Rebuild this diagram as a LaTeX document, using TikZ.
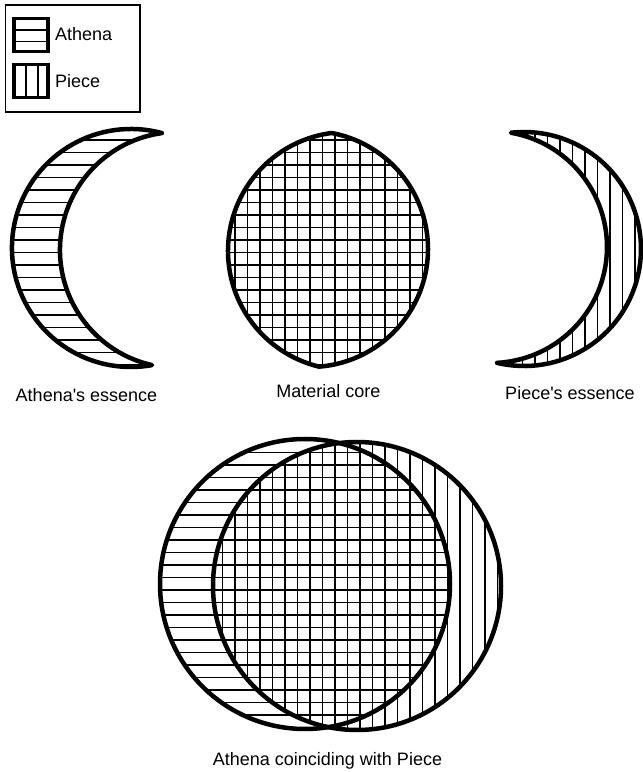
\documentclass[tikz,border=0pt]{standalone}
\usepackage{fontspec}
\newfontfamily\labfont{Liberation Sans}
\begin{document}
\begin{tikzpicture}[x=1pt,y=1pt,
  outline/.style={line width=4.5pt, line join=round},
  hatchline/.style={line width=1.3pt},
  frameline/.style={line width=1.3pt},
  swatch/.style={line width=3.2pt},
  lab/.style={font=\labfont\fontsize{18}{21}\selectfont, inner sep=0pt, anchor=base},
  athenaess/.style={insert path={(161.96,638.89) arc[start angle=74.9,end angle=280.2,radius=119] arc[start angle=257.3,end angle=97.8,radius=118] -- cycle}},
  corelens/.style={insert path={(331.63,639.01) arc[start angle=97.42,end angle=256.39,radius=119] arc[start angle=-85.63,end angle=79.44,radius=118] -- cycle}},
  pieceess/.style={insert path={(497.02,409.15) arc[start angle=-103.33,end angle=96.40,radius=117] arc[start angle=80.09,end angle=-87.03,radius=116] -- cycle}},
  athenacirc/.style={insert path={(305,188) circle[radius=145]}},
  piececirc/.style={insert path={(357,186) circle[radius=144]}}
]
\useasboundingbox (0,0) rectangle (643,772);

% ---------- legend ----------
\draw[frameline] (5.5,767) rectangle (140,660);
\draw[hatchline] (14,742) -- (48,742);
\draw[hatchline] (14,730.5) -- (48,730.5);
\draw[swatch] (14,753.5) rectangle (48,720.5);
\draw[hatchline] (26,707.5) -- (26,674.5);
\draw[hatchline] (38,707.5) -- (38,674.5);
\draw[swatch] (14,707.5) rectangle (48,674.5);
\node[lab, anchor=base west] (legA) at (55,731) {Athena};
\node[lab, anchor=base west] (legP) at (55,684.5) {Piece};

% ---------- Athena's essence ----------
\begin{scope}
  \clip[athenaess];
  \foreach \k in {0,...,52} \draw[hatchline] (0,{7+12.5*\k}) -- (643,{7+12.5*\k});
\end{scope}
\draw[outline, athenaess];

% ---------- Material core ----------
\begin{scope}
  \clip[corelens];
  \foreach \k in {0,...,52} \draw[hatchline] (0,{7+12.5*\k}) -- (643,{7+12.5*\k});
  \foreach \k in {0,...,52} \draw[hatchline] ({10+12.5*\k},0) -- ({10+12.5*\k},772);
\end{scope}
\draw[outline, corelens];

% ---------- Piece's essence ----------
\begin{scope}
  \clip[pieceess];
  \foreach \k in {0,...,52} \draw[hatchline] ({10+12.5*\k},0) -- ({10+12.5*\k},772);
\end{scope}
\draw[outline, pieceess];

% ---------- coinciding ----------
\begin{scope}
  \clip[athenacirc];
  \foreach \k in {0,...,52} \draw[hatchline] (0,{7+12.5*\k}) -- (643,{7+12.5*\k});
\end{scope}
\begin{scope}
  \clip[piececirc];
  \foreach \k in {0,...,52} \draw[hatchline] ({10+12.5*\k},0) -- ({10+12.5*\k},772);
\end{scope}
\draw[outline, athenacirc];
\draw[outline, piececirc];

% ---------- labels ----------
\node[lab] (labA) at (86.5,370) {Athena\textquotesingle s essence};
\node[lab] (labM) at (328.3,374) {Material core};
\node[lab] (labP) at (570,372) {Piece\textquotesingle s essence};
\node[lab] (labC) at (327.5,6) {Athena coinciding with Piece};
\end{tikzpicture}
\end{document}
